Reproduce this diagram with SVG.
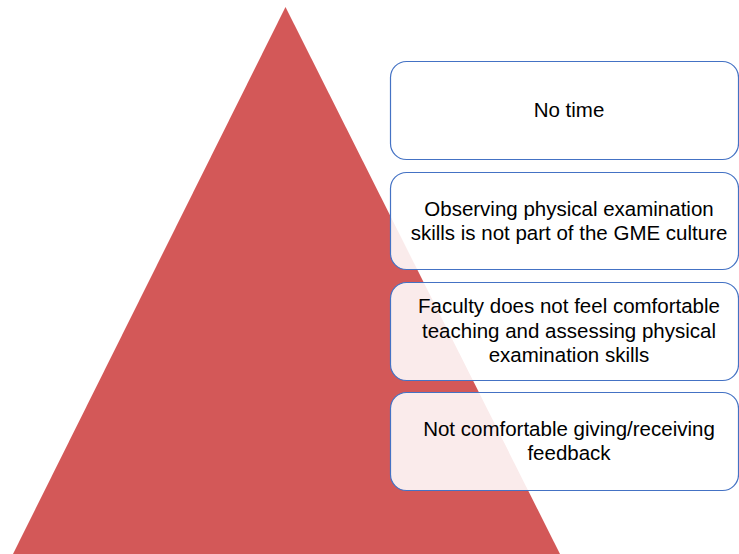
<svg xmlns="http://www.w3.org/2000/svg" width="739" height="554" viewBox="0 0 739 554">
  <style>
    .box { fill: #ffffff; fill-opacity: 0.88; stroke: #4472C4; stroke-width: 1.2; }
    .lbl { font-family: "Liberation Sans", Arial, sans-serif; font-size: 20.5px; fill: #000000; text-anchor: middle; }
  </style>
  <rect width="739" height="554" fill="#ffffff"/>
  <g id="pyramid">
    <polygon points="285.5,7 12,556 561,556" fill="#D35858"/>
  </g>
  <g id="connectors"></g>
  <g id="box1">
    <rect class="box" x="390.5" y="61.5" width="348" height="98" rx="16"/>
    <text class="lbl" x="569" y="117">No time</text>
  </g>
  <g id="box2">
    <rect class="box" x="390.5" y="172.5" width="348" height="97" rx="16"/>
    <text class="lbl" x="569" y="216">Observing physical examination</text>
    <text class="lbl" x="569" y="240">skills is not part of the GME culture</text>
  </g>
  <g id="box3">
    <rect class="box" x="390.5" y="282.5" width="348" height="98" rx="16"/>
    <text class="lbl" x="569" y="313">Faculty does not feel comfortable</text>
    <text class="lbl" x="569" y="338">teaching and assessing physical</text>
    <text class="lbl" x="569" y="362">examination skills</text>
  </g>
  <g id="box4">
    <rect class="box" x="390.5" y="392.5" width="348" height="98" rx="16"/>
    <text class="lbl" x="569" y="436">Not comfortable giving/receiving</text>
    <text class="lbl" x="569" y="460">feedback</text>
  </g>
</svg>
